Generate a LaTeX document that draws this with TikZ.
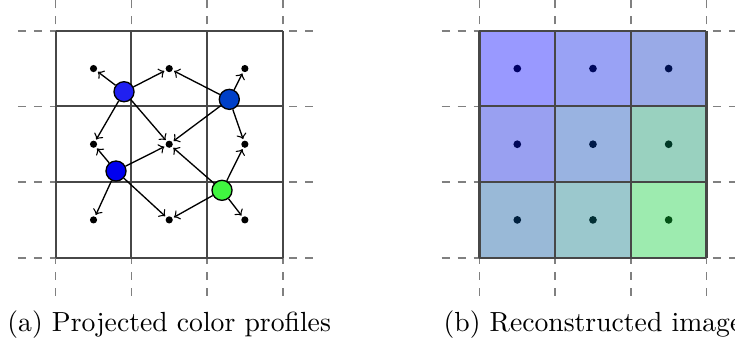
\documentclass[tikz,border=0pt]{standalone}
\definecolor{srcA}{RGB}{32,32,240}
\definecolor{srcB}{RGB}{0,64,200}
\definecolor{srcC}{RGB}{0,0,240}
\definecolor{srcD}{RGB}{64,245,64}
\definecolor{cell00}{RGB}{0,0,255}
\definecolor{cell10}{RGB}{0,22,230}
\definecolor{cell20}{RGB}{0,42,195}
\definecolor{cell01}{RGB}{0,18,220}
\definecolor{cell11}{RGB}{0,65,180}
\definecolor{cell21}{RGB}{0,140,95}
\definecolor{cell02}{RGB}{0,80,155}
\definecolor{cell12}{RGB}{5,118,130}
\definecolor{cell22}{RGB}{10,205,55}
\begin{document}
\begin{tikzpicture}[
  gridline/.style={draw=black!72, line width=0.8pt},
  guide/.style={draw=black!50, line width=0.6pt, dashed},
  dot/.style={circle, fill=black, inner sep=0pt, minimum size=2.7pt},
  src/.style={circle, draw=black, line width=0.5pt, inner sep=0pt, minimum size=0.265cm},
  proj/.style={->, line width=0.5pt, shorten >=0.5pt},
  captext/.style={font=\fontsize{10.4}{12}\selectfont, anchor=base, inner sep=0pt},
]
\useasboundingbox (-0.736,-1.154) rectangle (8.977,3.406);
\clip (-0.736,-1.154) rectangle (8.977,3.406);
% dashed guide lines
\foreach \o in {0,5.6}{
  \foreach \k in {0,1,2,3}{
    \draw[guide] (\o+\k,-0.5) -- (\o+\k,3.5);
    \draw[guide] (\o-0.5,\k) -- (\o+3.5,\k);
  }
}
% ---------- (a) projected colour profiles ----------
\draw[gridline] (0,0) grid (3,3);
\foreach \i in {0,1,2}{
  \foreach \j in {0,1,2}{
    \node[dot] (a\i\j) at (\i+0.5,2.5-\j) {};
  }
}
\node[src, fill=srcA] (p1) at (0.903,2.194) {};
\node[src, fill=srcB] (p2) at (2.294,2.093) {};
\node[src, fill=srcC] (p3) at (0.797,1.146) {};
\node[src, fill=srcD] (p4) at (2.198,0.891) {};
\foreach \t in {a00,a10,a11,a01} \draw[proj] (p1) -- (\t);
\foreach \t in {a10,a20,a11,a21} \draw[proj] (p2) -- (\t);
\foreach \t in {a01,a11,a02,a12} \draw[proj] (p3) -- (\t);
\foreach \t in {a11,a21,a12,a22} \draw[proj] (p4) -- (\t);
% ---------- (b) reconstructed image ----------
\begin{scope}[shift={(5.6,0)}]
\foreach \i in {0,1,2}{
  \foreach \j in {0,1,2}{
    \node[dot, minimum size=2.9pt] (b\i\j) at (\i+0.5,2.5-\j) {};
  }
}
\foreach \i in {0,1,2}{
  \foreach \j in {0,1,2}{
    \fill[cell\i\j, fill opacity=0.4] (\i,2-\j) rectangle ++(1,1);
  }
}
\draw[gridline] (0,0) grid (3,3);
\end{scope}
% captions
\node[captext] (capa) at (1.5,-0.98) {(a) Projected color profiles};
\node[captext] (capb) at (7.1,-0.98) {(b) Reconstructed image};
\end{tikzpicture}
\end{document}
